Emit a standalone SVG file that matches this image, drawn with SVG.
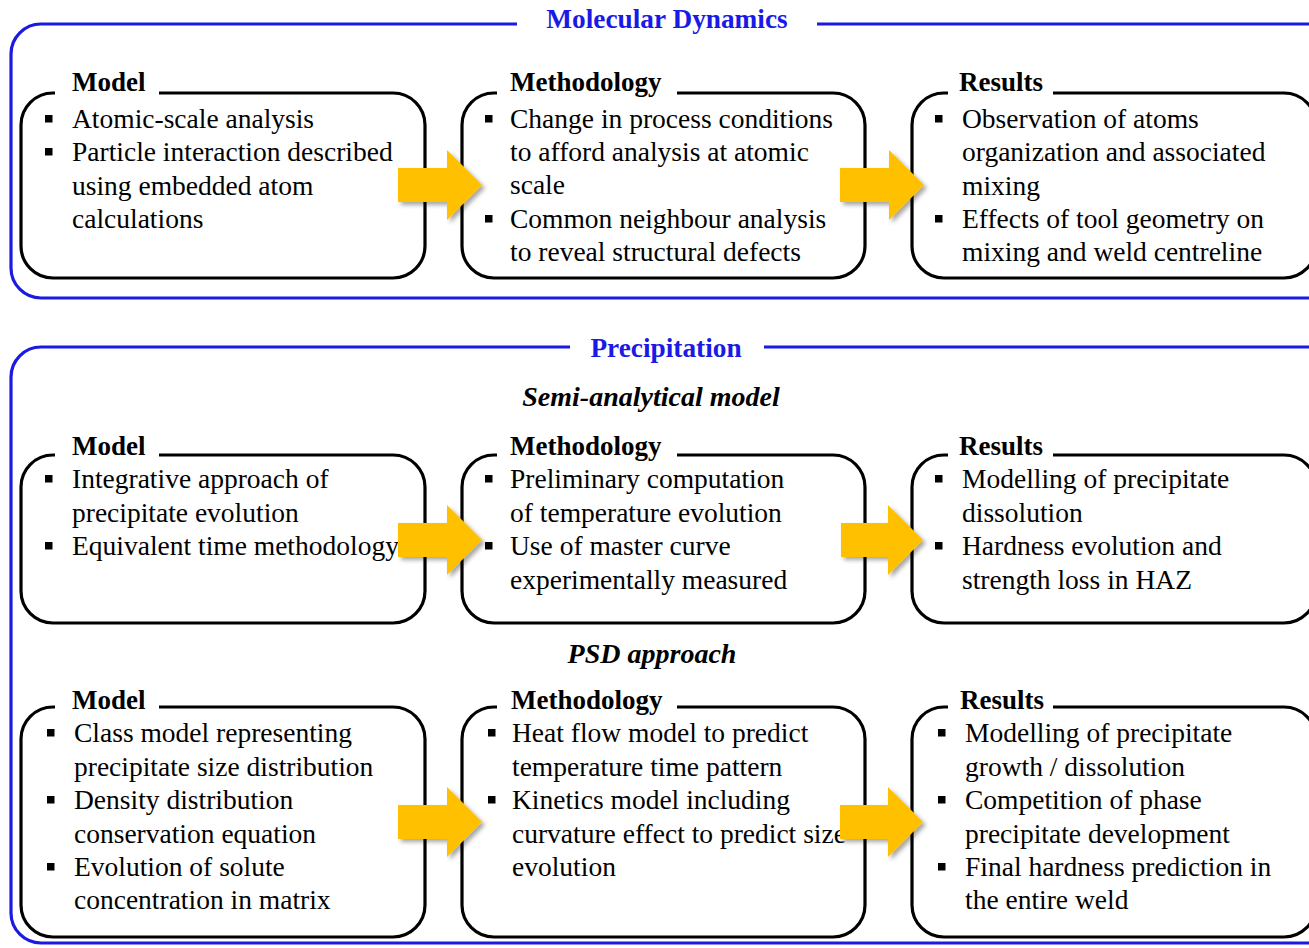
<svg xmlns="http://www.w3.org/2000/svg" width="1309" height="948" viewBox="0 0 1309 948">
<defs>
<style>
.sec{fill:none;stroke:#1a1ae0;stroke-width:3.2}
.box{fill:none;stroke:#000;stroke-width:3.2}
.mask{fill:#fff}
.ttl{font-family:'Liberation Serif','Times New Roman',Times,'DejaVu Serif',serif;font-weight:bold;font-size:27.3px;fill:#1a1ae6}
.sub{font-family:'Liberation Serif','Times New Roman',Times,'DejaVu Serif',serif;font-weight:bold;font-style:italic;font-size:28px;fill:#000}
.hd{font-family:'Liberation Serif','Times New Roman',Times,'DejaVu Serif',serif;font-weight:bold;font-size:27px;fill:#000}
.tx{font-family:'Liberation Serif','Times New Roman',Times,'DejaVu Serif',serif;font-size:27.5px;fill:#000}
.bl{fill:#000}
.arr{fill:#FFC000}
</style>
<filter id="sh" x="-20%" y="-20%" width="150%" height="150%">
<feDropShadow dx="3" dy="3" stdDeviation="2" flood-color="#000" flood-opacity="0.35"/>
</filter>
</defs>
<rect width="1309" height="948" fill="#fff"/>

<g id="section-md">
<rect class="sec" x="11" y="24" width="1330" height="274" rx="30"/>
<rect class="mask" x="517" y="10" width="300" height="28"/>
<text class="ttl" x="667" y="28" text-anchor="middle">Molecular Dynamics</text>
</g>

<g id="section-prec">
<rect class="sec" x="11" y="347" width="1330" height="596" rx="30"/>
<rect class="mask" x="570" y="333" width="194" height="28"/>
<text class="ttl" x="666" y="357" text-anchor="middle">Precipitation</text>
<text class="sub" x="651" y="406" text-anchor="middle">Semi-analytical model</text>
<text class="sub" x="652" y="663" text-anchor="middle">PSD approach</text>
</g>

<g id="md-model">
<rect class="box" x="21" y="93" width="404" height="185" rx="32"/>
<rect class="mask" x="55" y="80" width="104" height="20"/>
<text class="hd" x="72" y="91">Model</text>
<rect class="bl" x="45" y="115" width="7.5" height="7.5"/>
<rect class="bl" x="45" y="148" width="7.5" height="7.5"/>
<text class="tx" x="72" y="128">Atomic-scale analysis</text>
<text class="tx" x="72" y="161">Particle interaction described</text>
<text class="tx" x="72" y="195">using embedded atom</text>
<text class="tx" x="72" y="228">calculations</text>
</g>

<g id="md-method">
<rect class="box" x="462" y="93" width="403" height="185" rx="32"/>
<rect class="mask" x="497" y="80" width="180" height="20"/>
<text class="hd" x="510" y="91">Methodology</text>
<rect class="bl" x="485" y="115" width="7.5" height="7.5"/>
<rect class="bl" x="485" y="215" width="7.5" height="7.5"/>
<text class="tx" x="510" y="128">Change  in process conditions</text>
<text class="tx" x="510" y="161">to afford analysis at atomic</text>
<text class="tx" x="510" y="194">scale</text>
<text class="tx" x="510" y="228">Common  neighbour  analysis</text>
<text class="tx" x="510" y="261">to reveal structural defects</text>
</g>

<g id="md-results">
<rect class="box" x="912" y="93" width="404" height="185" rx="32"/>
<rect class="mask" x="948" y="80" width="105" height="20"/>
<text class="hd" x="959" y="91">Results</text>
<rect class="bl" x="935" y="115" width="7.5" height="7.5"/>
<rect class="bl" x="935" y="215" width="7.5" height="7.5"/>
<text class="tx" x="962" y="128">Observation of atoms</text>
<text class="tx" x="962" y="161">organization and associated</text>
<text class="tx" x="962" y="195">mixing</text>
<text class="tx" x="962" y="228">Effects of tool geometry on</text>
<text class="tx" x="962" y="261">mixing and weld centreline</text>
</g>

<g id="sa-model">
<rect class="box" x="21" y="455" width="404" height="168" rx="32"/>
<rect class="mask" x="55" y="442" width="104" height="20"/>
<text class="hd" x="72" y="455">Model</text>
<rect class="bl" x="45" y="475" width="7.5" height="7.5"/>
<rect class="bl" x="45" y="542" width="7.5" height="7.5"/>
<text class="tx" x="72" y="488">Integrative approach of</text>
<text class="tx" x="72" y="522">precipitate evolution</text>
<text class="tx" x="72" y="555">Equivalent time methodology</text>
</g>

<g id="sa-method">
<rect class="box" x="462" y="455" width="403" height="168" rx="32"/>
<rect class="mask" x="497" y="442" width="180" height="20"/>
<text class="hd" x="510" y="455">Methodology</text>
<rect class="bl" x="485" y="475" width="7.5" height="7.5"/>
<rect class="bl" x="485" y="542" width="7.5" height="7.5"/>
<text class="tx" x="510" y="488">Preliminary computation</text>
<text class="tx" x="510" y="522">of temperature evolution</text>
<text class="tx" x="510" y="555">Use of master curve</text>
<text class="tx" x="510" y="589">experimentally measured</text>
</g>

<g id="sa-results">
<rect class="box" x="912" y="455" width="404" height="168" rx="32"/>
<rect class="mask" x="948" y="442" width="105" height="20"/>
<text class="hd" x="959" y="455">Results</text>
<rect class="bl" x="935" y="475" width="7.5" height="7.5"/>
<rect class="bl" x="935" y="542" width="7.5" height="7.5"/>
<text class="tx" x="962" y="488">Modelling of precipitate</text>
<text class="tx" x="962" y="522">dissolution</text>
<text class="tx" x="962" y="555">Hardness evolution and</text>
<text class="tx" x="962" y="589">strength loss in HAZ</text>
</g>

<g id="psd-model">
<rect class="box" x="21" y="707" width="404" height="230" rx="32"/>
<rect class="mask" x="55" y="694" width="104" height="20"/>
<text class="hd" x="72" y="709">Model</text>
<rect class="bl" x="47" y="729" width="7.5" height="7.5"/>
<rect class="bl" x="47" y="796" width="7.5" height="7.5"/>
<rect class="bl" x="47" y="863" width="7.5" height="7.5"/>
<text class="tx" x="74" y="742">Class model representing</text>
<text class="tx" x="74" y="776">precipitate size distribution</text>
<text class="tx" x="74" y="809">Density distribution</text>
<text class="tx" x="74" y="843">conservation equation</text>
<text class="tx" x="74" y="876">Evolution of solute</text>
<text class="tx" x="74" y="909">concentration in matrix</text>
</g>

<g id="psd-method">
<rect class="box" x="462" y="707" width="403" height="230" rx="32"/>
<rect class="mask" x="497" y="694" width="180" height="20"/>
<text class="hd" x="511" y="709">Methodology</text>
<rect class="bl" x="488" y="729" width="7.5" height="7.5"/>
<rect class="bl" x="488" y="796" width="7.5" height="7.5"/>
<text class="tx" x="512" y="742">Heat flow model to predict</text>
<text class="tx" x="512" y="776">temperature time pattern</text>
<text class="tx" x="512" y="809">Kinetics model including</text>
<text class="tx" x="512" y="843">curvature effect to predict size</text>
<text class="tx" x="512" y="876">evolution</text>
</g>

<g id="psd-results">
<rect class="box" x="912" y="707" width="404" height="230" rx="32"/>
<rect class="mask" x="948" y="694" width="105" height="20"/>
<text class="hd" x="960" y="709">Results</text>
<rect class="bl" x="938" y="729" width="7.5" height="7.5"/>
<rect class="bl" x="938" y="796" width="7.5" height="7.5"/>
<rect class="bl" x="938" y="863" width="7.5" height="7.5"/>
<text class="tx" x="965" y="742">Modelling of precipitate</text>
<text class="tx" x="965" y="776">growth / dissolution</text>
<text class="tx" x="965" y="809">Competition of phase</text>
<text class="tx" x="965" y="843">precipitate development</text>
<text class="tx" x="965" y="876">Final hardness prediction in</text>
<text class="tx" x="965" y="909">the entire weld</text>
</g>

<g id="connectors" filter="url(#sh)">
<path class="arr" d="M398,168 H447 V150 L482,185 L447,220 V202 H398 Z"/>
<path class="arr" d="M840,168 H889 V150 L924,185 L889,220 V202 H840 Z"/>
<path class="arr" d="M398,523 H447 V505 L482,540 L447,575 V557 H398 Z"/>
<path class="arr" d="M841,523 H888 V505 L923,540 L888,575 V557 H841 Z"/>
<path class="arr" d="M398,805 H447 V787 L482,822 L447,857 V839 H398 Z"/>
<path class="arr" d="M840,805 H888 V787 L923,822 L888,857 V839 H840 Z"/>
</g>
</svg>
